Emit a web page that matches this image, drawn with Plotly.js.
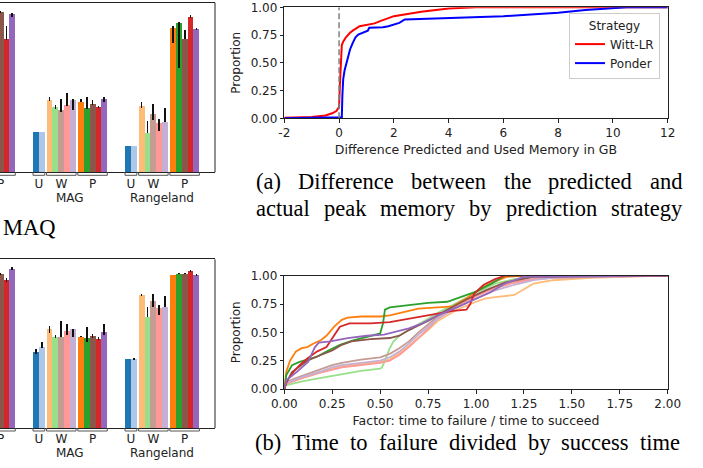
<!DOCTYPE html>
<html><head><meta charset="utf-8">
<script src="https://cdn.plot.ly/plotly-3.0.1.min.js"></script>
<style>html,body{margin:0;padding:0;background:#fff}#chart{width:703px;height:468px}</style>
</head><body><div id="chart"></div>
<script>
// ---------------- DATA ----------------
const datasets = [null, 'MAG', 'Rangeland'];       // first dataset is cut off on the left
const groups = ['U', 'W', 'P'];
const strategies = ['U-1','U-2','W-1','W-2','W-3','W-4','W-5','P-1','P-2','P-3','P-4','P-5'];
const strategyGroup = ['U','U','W','W','W','W','W','P','P','P','P','P'];

// top-left bar chart (values per strategy) for each dataset
const topPrev      = [null,null,null,null,null,null,null,null,null,94.5,78.6,93.3];
const topMAG       = [23.8,23.8,42.6,38.5,36.7,39.7,42.6,41.5,37.9,40.3,38.5,43.2];
const topRangeland = [15.5,15.5,39.1,23.2,34.4,29.1,29.7,85.1,88.0,78.6,91.4,84.5];
const topPrevUp      = [0,0,0,0,0,0,0,0,0,0.6,7.7,0.6];
const topPrevDown    = [0,0,0,0,0,0,0,0,0,0.6,0.6,1.8];
const topMAGUp       = [0,0,1.8,1.2,6.5,7.1,0.6,1.8,6.5,2.4,0.6,1.2];
const topMAGDown     = [0,0,0.6,1.2,1.2,0.6,5.9,0,0.6,0.6,0.6,1.8];
const topRangelandUp   = [0,0,2.4,7.1,5.9,2.4,8.3,1.2,0.6,5.3,1.2,0.3];
const topRangelandDown = [0,0,1.2,0,3.5,4.7,0,8.8,26.5,0,0.6,0.3];

// bottom-left bar chart
const botPrev      = [null,null,null,null,null,null,null,null,null,91.3,87.7,94.3];
const botMAG       = [45.1,48.0,58.7,53.9,53.9,57.5,58.7,54.1,53.3,54.5,52.8,56.9];
const botRangeland = [40.9,40.9,78.8,65.8,75.3,71.1,71.7,90.7,91.3,91.3,93.1,90.7];
const botPrevUp      = [0,0,0,0,0,0,0,0,0,0.6,1.2,1.2];
const botPrevDown    = [0,0,0,0,0,0,0,0,0,0.6,1.2,0.6];
const botMAGUp       = [1.8,3.0,1.8,1.2,9.5,4.2,0,0.3,6.5,1.2,1.2,4.7];
const botMAGDown     = [1.2,0.6,2.4,0.6,0,2.4,4.7,0.3,2.4,1.2,0.6,1.8];
const botRangelandUp   = [0,0.3,0.6,5.9,4.2,1.8,6.5,0,0.3,0.3,0.6,0.6];
const botRangelandDown = [0,0.3,0.6,0,3.6,4.2,0,0,0.3,0.3,0.6,0.6];

// (a) CDF of difference predicted vs used memory
const wittX = [-2,-1,-0.5,-0.25,-0.1,0,0.03,0.06,0.1,0.15,0.25,0.4,0.5,0.75,1.0,1.3,1.5,1.7,2.0,2.5,3.0,4.0,5.0,12];
const wittY = [0.005,0.012,0.025,0.045,0.065,0.1,0.3,0.5,0.66,0.69,0.73,0.77,0.79,0.83,0.84,0.855,0.875,0.895,0.92,0.94,0.96,0.99,1.0,1.0];
const ponderX = [-2,0.08,0.1,0.12,0.15,0.2,0.3,0.4,0.5,0.6,0.7,0.85,1.0,1.05,1.1,1.3,1.6,1.8,2.0,2.2,2.4,3,4,5,6,7,8,9,10,10.5,12];
const ponderY = [0,0.005,0.01,0.2,0.35,0.43,0.53,0.62,0.68,0.73,0.755,0.77,0.78,0.79,0.815,0.815,0.82,0.83,0.845,0.86,0.89,0.895,0.905,0.91,0.92,0.935,0.95,0.975,0.99,1.0,1.0];

// (b) CDF of time to failure / time to succeed, per strategy
const ttfW1X = [0,0.05,0.1,0.2,0.25,0.3,0.4,0.5,0.55,0.6,0.65,0.7,0.75,0.8,0.9,1.0,1.05,1.1,1.2,1.25,1.3,1.4,1.6,2.0];
const ttfW1Y = [0.04,0.07,0.1,0.15,0.18,0.2,0.22,0.24,0.26,0.32,0.38,0.45,0.52,0.6,0.7,0.77,0.8,0.81,0.83,0.88,0.93,0.96,0.98,1.0];
const ttfW2X = [0,0.05,0.1,0.2,0.3,0.4,0.5,0.51,0.53,0.55,0.57,0.6,0.65,0.7,0.75,0.8,0.9,1.0,1.1,1.2,1.35,2.0];
const ttfW2Y = [0.03,0.05,0.07,0.1,0.13,0.16,0.18,0.19,0.27,0.36,0.42,0.47,0.52,0.57,0.62,0.67,0.76,0.85,0.93,0.97,1.0,1.0];
const ttfW3X = [0,0.05,0.1,0.2,0.25,0.3,0.4,0.5,0.55,0.6,0.65,0.7,0.75,0.8,0.9,1.0,1.1,1.2,1.3,1.4,1.6,2.0];
const ttfW3Y = [0.05,0.09,0.12,0.18,0.21,0.23,0.26,0.28,0.31,0.36,0.42,0.5,0.57,0.64,0.74,0.83,0.9,0.94,0.97,0.98,0.99,1.0];
const ttfW4X = [0,0.05,0.1,0.2,0.25,0.3,0.4,0.5,0.55,0.6,0.65,0.7,0.75,0.8,0.9,1.0,1.1,1.2,1.3,1.4,1.6,2.0];
const ttfW4Y = [0.04,0.07,0.1,0.15,0.17,0.19,0.21,0.23,0.25,0.3,0.37,0.45,0.53,0.62,0.73,0.82,0.89,0.94,0.97,0.98,0.99,1.0];
const ttfW5X = [0,0.05,0.1,0.2,0.25,0.3,0.4,0.5,0.55,0.6,0.65,0.7,0.75,0.8,0.9,1.0,1.1,1.2,1.3,1.4,1.6,2.0];
const ttfW5Y = [0.05,0.08,0.11,0.16,0.19,0.21,0.23,0.25,0.28,0.33,0.4,0.48,0.55,0.62,0.72,0.8,0.87,0.92,0.96,0.98,0.99,1.0];
const ttfP1X = [0,0.01,0.03,0.06,0.09,0.12,0.15,0.19,0.22,0.26,0.3,0.33,0.4,0.5,0.55,0.62,0.7,0.8,0.88,0.95,1.0,1.05,1.1,1.16,1.25,2.0];
const ttfP1Y = [0,0.15,0.25,0.33,0.36,0.37,0.4,0.43,0.47,0.55,0.61,0.63,0.64,0.64,0.65,0.68,0.71,0.72,0.73,0.8,0.86,0.91,0.95,0.99,1.0,1.0];
const ttfP2X = [0,0.01,0.04,0.08,0.12,0.17,0.22,0.29,0.36,0.45,0.5,0.515,0.525,0.55,0.65,0.75,0.85,0.9,0.97,1.0,1.08,1.15,2.0];
const ttfP2Y = [0,0.12,0.21,0.24,0.26,0.285,0.33,0.39,0.43,0.47,0.49,0.58,0.7,0.72,0.74,0.76,0.77,0.8,0.84,0.86,0.93,1.0,1.0];
const ttfP3X = [0,0.012,0.04,0.08,0.12,0.19,0.25,0.3,0.35,0.45,0.55,0.6,0.65,0.7,0.75,0.85,0.95,1.05,1.15,1.3,2.0];
const ttfP3Y = [0,0.06,0.15,0.2,0.25,0.3,0.34,0.39,0.42,0.44,0.45,0.47,0.52,0.56,0.6,0.7,0.79,0.87,0.94,0.99,1.0];
const ttfP4X = [0,0.012,0.047,0.08,0.12,0.17,0.22,0.26,0.29,0.34,0.45,0.55,0.65,0.72,0.8,0.88,0.95,0.97,0.99,1.04,1.1,1.15,2.0];
const ttfP4Y = [0,0.065,0.15,0.21,0.27,0.33,0.37,0.48,0.55,0.58,0.58,0.59,0.62,0.64,0.67,0.69,0.7,0.75,0.84,0.92,0.97,1.0,1.0];
const ttfP5X = [0,0.012,0.064,0.1,0.125,0.14,0.16,0.18,0.24,0.33,0.43,0.52,0.6,0.65,0.72,0.8,0.9,1.0,1.07,1.15,1.25,2.0];
const ttfP5Y = [0,0.08,0.15,0.2,0.24,0.3,0.37,0.41,0.42,0.45,0.47,0.48,0.51,0.535,0.58,0.65,0.72,0.8,0.85,0.93,0.99,1.0];

const captionA1 = '(a) Difference between the predicted and';
const captionA2 = 'actual peak memory by prediction strategy';
const captionB  = '(b) Time to failure divided by success time';
const captionLeft = 'MAQ';

// ---------------- STYLE ----------------
const colors = ['#1f77b4','#aec7e8','#ffbb78','#98df8a','#c49c94','#ff9896','#c5b0d5',
                '#ff7f0e','#2ca02c','#8c564b','#d62728','#9467bd'];
const PW = 703, PH = 468;
const fx = p => p / PW, fy = p => 1 - p / PH;
const SANS = 'DejaVu Sans, sans-serif';
const SERIF = 'Liberation Serif, Times New Roman, serif';
const INK = '#222';

// bar layout (in bar-width units)
const groupSize = {U: 2, W: 5, P: 5};
const groupGap = 0.3, datasetGap = 3.0;
const groupStart = {}; let acc = 0;
groups.forEach((g, i) => { groupStart[g] = acc; acc += groupSize[g] + (i < groups.length - 1 ? groupGap : 0); });
const datasetWidth = acc;
const period = datasetWidth + datasetGap;
const dsBase = datasets.map((d, k) => (k - 1) * period);
const within = strategies.map((s, i) => {
  const g = strategyGroup[i];
  const first = strategyGroup.indexOf(g);
  return groupStart[g] + (i - first) + 0.5;
});

function barTraces(xa, ya, vals, ups, downs) {
  return strategies.map((s, i) => ({
    type: 'bar', name: s, xaxis: xa, yaxis: ya, showlegend: false,
    x: dsBase.map(b => b + within[i]),
    y: vals.map(v => v[i]),
    width: 1,
    marker: {color: colors[i], line: {width: 0}},
    error_y: {type: 'data', symmetric: false, array: ups.map(u => u[i]), arrayminus: downs.map(d => d[i]),
              color: '#111', thickness: 1.8, width: 0},
    hoverinfo: 'skip'
  }));
}

const traces = [
  ...barTraces('x', 'y', [topPrev, topMAG, topRangeland], [topPrevUp, topMAGUp, topRangelandUp], [topPrevDown, topMAGDown, topRangelandDown]),
  ...barTraces('x2', 'y2', [botPrev, botMAG, botRangeland], [botPrevUp, botMAGUp, botRangelandUp], [botPrevDown, botMAGDown, botRangelandDown]),
  {type: 'scatter', mode: 'lines', name: 'Witt-LR', x: wittX, y: wittY, xaxis: 'x3', yaxis: 'y3', line: {color: '#ff0000', width: 2}},
  {type: 'scatter', mode: 'lines', name: 'Ponder', x: ponderX, y: ponderY, xaxis: 'x3', yaxis: 'y3', line: {color: '#0000ff', width: 2}},
];
const ttf = [[ttfW1X, ttfW1Y], [ttfW2X, ttfW2Y], [ttfW3X, ttfW3Y], [ttfW4X, ttfW4Y], [ttfW5X, ttfW5Y],
             [ttfP1X, ttfP1Y], [ttfP2X, ttfP2Y], [ttfP3X, ttfP3Y], [ttfP4X, ttfP4Y], [ttfP5X, ttfP5Y]];
ttf.forEach((c, j) => {
  traces.push({type: 'scatter', mode: 'lines', name: strategies[j + 2], x: c[0], y: c[1], xaxis: 'x4', yaxis: 'y4',
    showlegend: false, line: {color: colors[j + 2], width: 1.8}});
});

// tick positions & labels for the bar charts
const tickvals = [], ticktext = [];
dsBase.forEach(b => groups.forEach(g => { tickvals.push(b + groupStart[g] + groupSize[g] / 2); ticktext.push(g); }));

const barRange = [-33 / 5.9, (215 - 33) / 5.9];
function barX(anchor) {
  return {domain: [0, fx(215)], range: barRange, anchor: anchor, showgrid: false, zeroline: false,
    showline: true, linecolor: INK, linewidth: 1, mirror: true, ticks: '',
    tickmode: 'array', tickvals: tickvals, ticktext: ticktext, ticklabeloverflow: 'allow',
    tickfont: {family: SANS, size: 12, color: INK}};
}
function barY(anchor, top, bottom) {
  return {domain: [fy(bottom), fy(top)], range: [0, 100], anchor: anchor, showgrid: false, zeroline: false,
    showline: false, showticklabels: false, ticks: ''};
}
const cdfTick = {family: SANS, size: 12, color: INK};
function cdfX(anchor, range, title, standoff, extra) {
  return Object.assign({domain: [fx(284.3), fx(667.7)], range: range, anchor: anchor, showgrid: false, zeroline: false,
    showline: true, linecolor: INK, linewidth: 1, mirror: true, ticks: 'outside', ticklen: 3.5, tickwidth: 1, tickcolor: INK,
    tickfont: cdfTick, title: {text: title, font: {family: SANS, size: 12.5, color: INK}, standoff: standoff}}, extra);
}
function cdfY(anchor, top, bottom) {
  return {domain: [fy(bottom), fy(top)], range: [0, 1], anchor: anchor, showgrid: false, zeroline: false,
    showline: true, linecolor: INK, linewidth: 1, mirror: true, ticks: 'outside', ticklen: 3.5, tickwidth: 1, tickcolor: INK,
    tickmode: 'array', tickvals: [0, 0.25, 0.5, 0.75, 1], ticktext: ['0.00','0.25','0.50','0.75','1.00'],
    tickfont: cdfTick, title: {text: 'Proportion', font: {family: SANS, size: 12, color: INK}, standoff: 7}};
}

const shapes = [
  {type: 'line', xref: 'x domain', yref: 'y domain', x0: 1, x1: 1, y0: 0, y1: 1, line: {color: INK, width: 1}},
  {type: 'line', xref: 'x2 domain', yref: 'y2 domain', x0: 1, x1: 1, y0: 0, y1: 1, line: {color: INK, width: 1}},
  {type: 'line', xref: 'x3', yref: 'y3', x0: 0, x1: 0, y0: 0, y1: 1, line: {color: '#808080', width: 1.5, dash: '6px,3px'}},
];
// group brackets under the bar charts
[['x', 172.3], ['x2', 428]].forEach(([xa, axisPx]) => {
  dsBase.forEach(b => groups.forEach(g => {
    const x0 = b + groupStart[g], x1 = x0 + groupSize[g];
    const y0 = fy(axisPx), y1 = fy(axisPx + 3);
    shapes.push({type: 'path', xref: xa, yref: 'paper', path: `M${x0},${y0} L${x0},${y1} L${x1},${y1} L${x1},${y0}`,
      line: {color: '#555', width: 1}});
  }));
});

const annotations = [];
[['x', 197.5], ['x2', 453]].forEach(([xa, ypx]) => {
  datasets.forEach((d, k) => {
    if (!d) return;
    annotations.push({xref: xa, yref: 'paper', x: dsBase[k] + datasetWidth / 2, y: fy(ypx), text: d, showarrow: false,
      xanchor: 'center', yanchor: 'middle', borderpad: 0, borderwidth: 0, font: {family: SANS, size: 12, color: INK}});
  });
});

// justified captions (word by word)
const ctx = document.createElement('canvas').getContext('2d');
const capSize = 22.5;
ctx.font = capSize + 'px "Liberation Serif"';
function justify(line, x0, x1, ypx) {
  const words = line.split(' ');
  const w = words.map(t => ctx.measureText(t).width);
  const total = w.reduce((a, b) => a + b, 0);
  const gap = (x1 - x0 - total) / (words.length - 1);
  let x = x0;
  words.forEach((t, i) => {
    annotations.push({xref: 'paper', yref: 'paper', x: fx(x), y: fy(ypx), text: t, showarrow: false,
      xanchor: 'left', yanchor: 'middle', borderpad: 0, borderwidth: 0,
      font: {family: SERIF, size: capSize, color: '#000'}});
    x += w[i] + gap;
  });
}
justify(captionA1, 256, 682, 182);
justify(captionA2, 256, 682, 209);
justify(captionB, 255, 680, 442);
annotations.push({xref: 'paper', yref: 'paper', x: fx(3), y: fy(227.5), text: captionLeft, showarrow: false,
  xanchor: 'left', yanchor: 'middle', borderpad: 0, borderwidth: 0, font: {family: SERIF, size: capSize, color: '#000'}});

const layout = {
  width: PW, height: PH, margin: {l: 0, r: 0, t: 0, b: 0},
  paper_bgcolor: '#fff', plot_bgcolor: '#fff', barmode: 'overlay', bargap: 0,
  font: {family: SANS, color: INK},
  xaxis: barX('y'), yaxis: barY('x', 2.7, 172.3),
  xaxis2: barX('y2'), yaxis2: barY('x2', 259.3, 428),
  xaxis3: cdfX('y3', [-2, 12], 'Difference Predicted and Used Memory in GB', 6,
    {tickmode: 'array', tickvals: [-2,0,2,4,6,8,10,12], ticktext: ['-2','0','2','4','6','8','10','12']}),
  yaxis3: cdfY('x3', 7.3, 118.3),
  xaxis4: cdfX('y4', [0, 2], 'Factor: time to failure / time to succeed', 6,
    {tickmode: 'array', tickvals: [0,0.25,0.5,0.75,1,1.25,1.5,1.75,2], ticktext: ['0.00','0.25','0.50','0.75','1.00','1.25','1.50','1.75','2.00']}),
  yaxis4: cdfY('x4', 275.7, 389),
  showlegend: true,
  legend: {x: fx(569), y: fy(13), xanchor: 'left', yanchor: 'top', bgcolor: 'rgba(255,255,255,0.85)',
    bordercolor: '#cccccc', borderwidth: 1, font: {family: SANS, size: 12, color: INK},
    title: {text: 'Strategy', side: 'top center', font: {family: SANS, size: 12, color: INK}},
    itemwidth: 30, tracegroupgap: 0},
  shapes: shapes, annotations: annotations
};

Plotly.newPlot('chart', traces, layout, {displayModeBar: false, staticPlot: true});
</script>
</body></html>
